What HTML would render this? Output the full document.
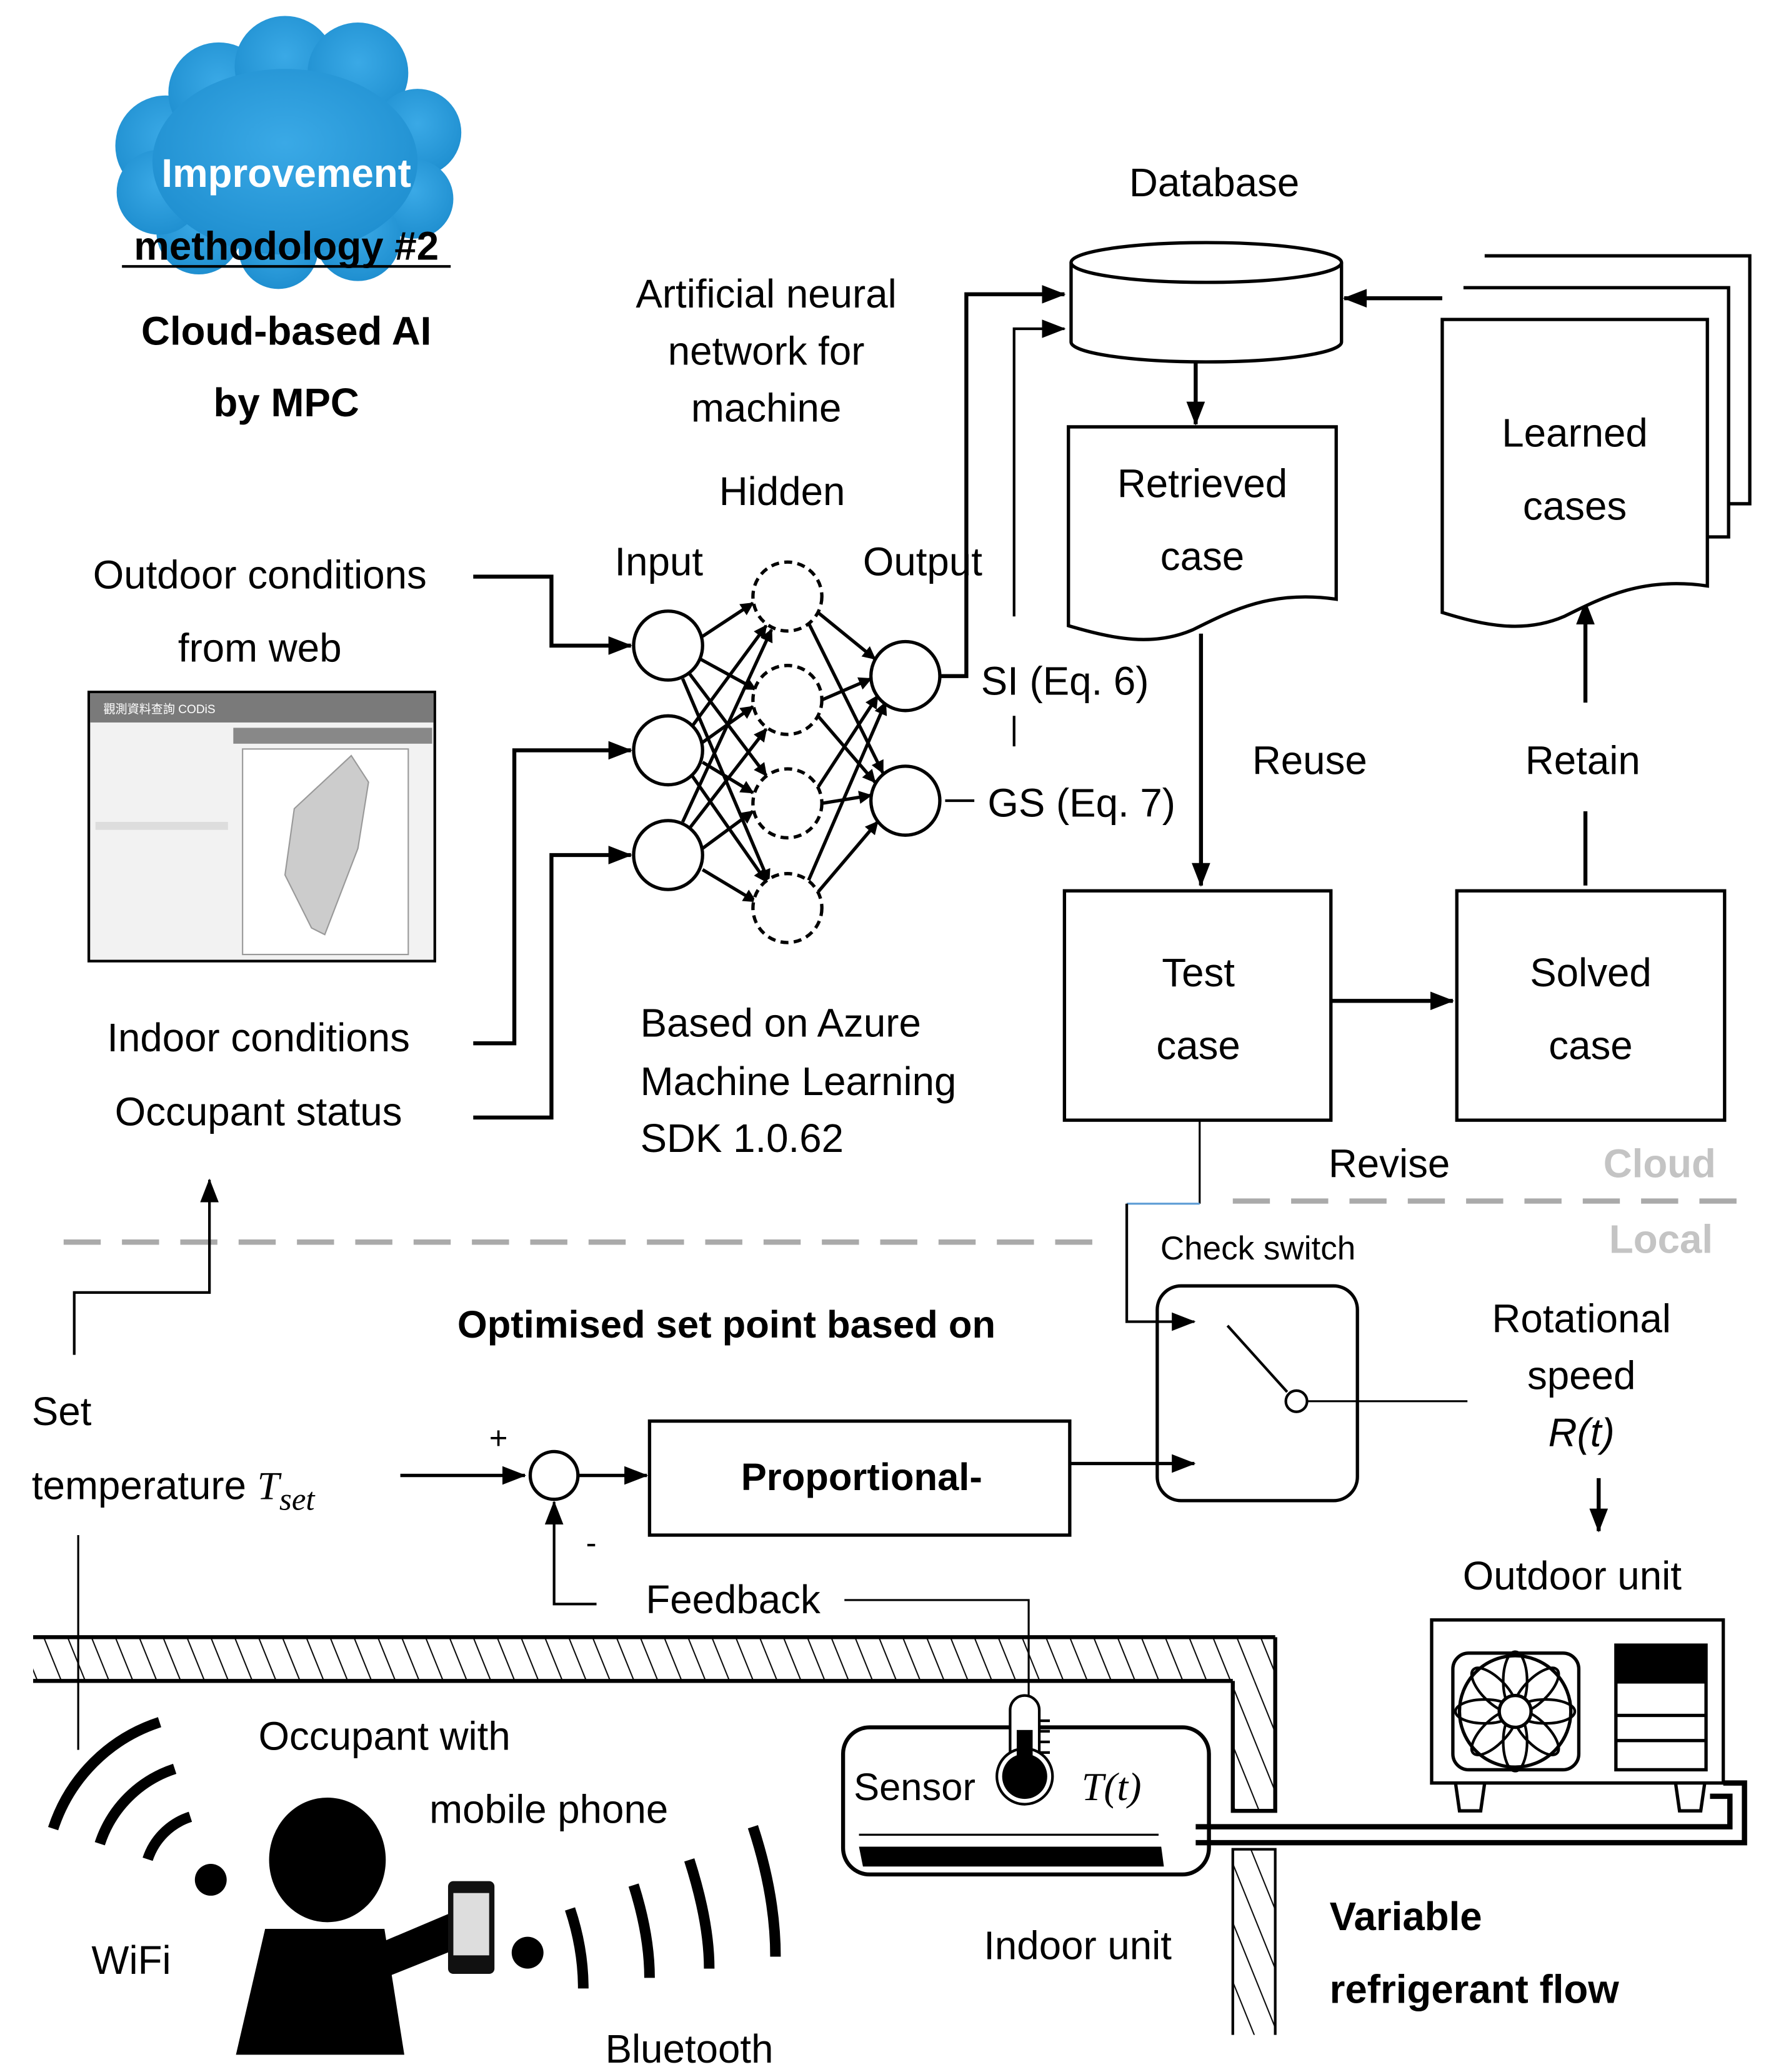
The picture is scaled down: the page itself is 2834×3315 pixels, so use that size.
<!DOCTYPE html>
<html><head><meta charset="utf-8"><style>html,body{margin:0;padding:0;background:#fff}svg{display:block}</style></head>
<body>
<svg width="2834" height="3315" viewBox="0 0 1336 1563" preserveAspectRatio="none" xmlns="http://www.w3.org/2000/svg" font-family="'Liberation Sans', sans-serif">
<defs>
<marker id="a" markerWidth="10" markerHeight="10" refX="9" refY="5" orient="auto" markerUnits="userSpaceOnUse"><path d="M0,0 L10,5 L0,10 z" fill="#000"/></marker>
<marker id="b" markerWidth="18" markerHeight="14" refX="17" refY="7" orient="auto" markerUnits="userSpaceOnUse"><path d="M0,0 L18,7 L0,14 z" fill="#000"/></marker>
<pattern id="h" width="18" height="40" patternUnits="userSpaceOnUse" patternTransform="skewX(22)"><line x1="2" y1="0" x2="2" y2="40" stroke="#000" stroke-width="1"/></pattern>
<radialGradient id="cg" cx="0.5" cy="0.4" r="0.6"><stop offset="0" stop-color="#3aa9e6"/><stop offset="1" stop-color="#1f8fd0"/></radialGradient>
</defs>

<!-- cloud -->
<g fill="url(#cg)">
<circle cx="125" cy="110" r="38"/><circle cx="165" cy="70" r="38"/><circle cx="215" cy="50" r="38"/><circle cx="270" cy="55" r="38"/><circle cx="315" cy="100" r="33"/><circle cx="312" cy="150" r="30"/><circle cx="270" cy="180" r="32"/><circle cx="210" cy="188" r="30"/><circle cx="150" cy="175" r="32"/><circle cx="120" cy="145" r="32"/><ellipse cx="215" cy="122" rx="100" ry="70"/>
</g>

<!-- screenshot -->
<rect x="67" y="522" width="261" height="203" fill="#f2f2f2" stroke="#000" stroke-width="2"/>
<rect x="68" y="523" width="259" height="22" fill="#7a7a7a"/>
<text x="78" y="538" font-size="9" fill="#fff" font-family="'Liberation Sans','Noto Sans CJK TC',sans-serif">觀測資料查詢  CODiS</text>
<rect x="176" y="549" width="150" height="12" fill="#888"/>
<rect x="183" y="565" width="125" height="155" fill="#fff" stroke="#999"/>
<path d="M265,570 L278,590 L270,640 L245,705 L235,700 L215,660 L222,610 Z" fill="#ccc" stroke="#999"/>
<rect x="72" y="620" width="100" height="6" fill="#ddd"/>

<g fill="none" stroke="#000" stroke-width="3">
<polyline points="357,435 416,435 416,487 476,487" marker-end="url(#b)"/>
<polyline points="357,787 388,787 388,566 476,566" marker-end="url(#b)"/>
<polyline points="357,843 416,843 416,645 476,645" marker-end="url(#b)"/>
<polyline points="709,510 729,510 729,222 803,222" marker-end="url(#b)"/>
<line x1="713" y1="604" x2="735" y2="604" stroke-width="2"/>
<polyline points="765,465 765,248 803,248" stroke-width="2" marker-end="url(#b)"/>
<line x1="765" y1="540" x2="765" y2="563" stroke-width="2"/>
<line x1="902" y1="272" x2="902" y2="320" marker-end="url(#b)"/>
<line x1="1088" y1="225" x2="1014" y2="225" marker-end="url(#b)"/>
<line x1="906" y1="478" x2="906" y2="668" marker-end="url(#b)"/>
<line x1="1196" y1="668" x2="1196" y2="612"/>
<line x1="1196" y1="530" x2="1196" y2="454" marker-end="url(#b)"/>
<line x1="1004" y1="755" x2="1096" y2="755" marker-end="url(#b)"/>
</g>

<!-- NN -->
<g stroke="#000" stroke-width="2.5" fill="none" marker-end="url(#a)">
<line x1="530" y1="480" x2="568" y2="455"/><line x1="528" y1="497" x2="570" y2="520"/><line x1="520" y1="508" x2="578" y2="585"/><line x1="515" y1="512" x2="580" y2="665"/>
<line x1="522" y1="548" x2="578" y2="472"/><line x1="530" y1="560" x2="568" y2="533"/><line x1="530" y1="575" x2="568" y2="598"/><line x1="522" y1="585" x2="578" y2="665"/>
<line x1="515" y1="620" x2="582" y2="475"/><line x1="520" y1="625" x2="578" y2="550"/><line x1="530" y1="640" x2="568" y2="612"/><line x1="530" y1="656" x2="570" y2="680"/>
<line x1="617" y1="462" x2="660" y2="497"/><line x1="610" y1="470" x2="666" y2="583"/>
<line x1="620" y1="528" x2="657" y2="512"/><line x1="617" y1="540" x2="660" y2="590"/>
<line x1="617" y1="594" x2="662" y2="525"/><line x1="620" y1="606" x2="657" y2="600"/>
<line x1="610" y1="664" x2="668" y2="530"/><line x1="617" y1="673" x2="662" y2="620"/>
</g>
<g stroke="#000" stroke-width="2.5" fill="#fff">
<circle cx="504" cy="487" r="26"/><circle cx="504" cy="566" r="26"/><circle cx="504" cy="645" r="26"/>
<circle cx="683" cy="510" r="26"/><circle cx="683" cy="604" r="26"/>
<g stroke-dasharray="6,4"><circle cx="594" cy="450" r="26"/><circle cx="594" cy="528" r="26"/><circle cx="594" cy="606" r="26"/><circle cx="594" cy="685" r="26"/></g>
</g>

<!-- database & docs -->
<g stroke="#000" stroke-width="2.5" fill="#fff">
<path d="M808,198 L808,258 A102,15 0 0 0 1012,258 L1012,198"/>
<ellipse cx="910" cy="198" rx="102" ry="15"/>
<path d="M806,322 H1008 V452 C960,445 930,460 900,475 C870,488 840,482 806,472 Z"/>
<path d="M1120,193 H1320 V380 H1304"/>
<path d="M1104,217 H1304 V405 H1288"/>
<path d="M1088,241 H1288 V442 C1240,435 1210,450 1180,465 C1150,478 1120,472 1088,462 Z"/>
<rect x="803" y="672" width="201" height="173"/>
<rect x="1099" y="672" width="202" height="173"/>
</g>

<g stroke="#aaa" stroke-width="4" stroke-dasharray="28,16">
<line x1="48" y1="937" x2="840" y2="937"/><line x1="930" y1="906" x2="1320" y2="906"/>
</g>

<g fill="none" stroke="#000">
<polyline points="905,845 905,908" stroke-width="1.5"/>
<polyline points="905,908 850,908" stroke="#5b9bd5" stroke-width="1.5"/>
<polyline points="850,908 850,997 901,997" stroke-width="2" marker-end="url(#b)"/>
<rect x="873" y="970" width="151" height="162" rx="18" stroke-width="2.5"/>
<line x1="926" y1="1000" x2="971" y2="1050" stroke-width="2"/>
<circle cx="978" cy="1057" r="8" stroke-width="2" fill="#fff"/>
<line x1="986" y1="1057" x2="1107" y2="1057" stroke-width="1.5"/>
<line x1="1206" y1="1115" x2="1206" y2="1155" stroke-width="3" marker-end="url(#b)"/>
<polyline points="56,1022 56,975 158,975 158,890" stroke-width="2" marker-end="url(#b)"/>
<line x1="302" y1="1113" x2="396" y2="1113" stroke-width="2.5" marker-end="url(#b)"/>
<circle cx="418" cy="1113" r="18" stroke-width="2.5" fill="#fff"/>
<line x1="436" y1="1113" x2="488" y2="1113" stroke-width="2.5" marker-end="url(#b)"/>
<rect x="490" y="1072" width="317" height="86" stroke-width="2.5"/>
<line x1="807" y1="1104" x2="901" y2="1104" stroke-width="2.5" marker-end="url(#b)"/>
<polyline points="450,1210 418,1210 418,1133" stroke-width="2" marker-end="url(#b)"/>
<polyline points="637,1207 776,1207 776,1280" stroke-width="1.5"/>
<line x1="59" y1="1158" x2="59" y2="1320" stroke-width="1.5"/>
</g>

<!-- building -->
<rect x="25" y="1235" width="937" height="33" fill="url(#h)"/>
<rect x="930" y="1268" width="32" height="98" fill="url(#h)"/>
<rect x="930" y="1395" width="32" height="140" fill="url(#h)"/>
<g stroke="#000" stroke-width="3" fill="none">
<line x1="25" y1="1235" x2="962" y2="1235"/>
<line x1="25" y1="1268" x2="930" y2="1268"/>
<polyline points="962,1235 962,1366 930,1366 930,1268"/>
<polyline points="930,1535 930,1395 962,1395 962,1535" stroke-width="2"/>
</g>

<!-- indoor unit -->
<rect x="636" y="1303" width="276" height="111" rx="20" fill="#fff" stroke="#000" stroke-width="3"/>
<line x1="648" y1="1384" x2="874" y2="1384" stroke="#000" stroke-width="1.5"/>
<path d="M648,1393 L876,1393 L878,1408 L651,1408 Z" fill="#000"/>
<path d="M762,1338 V1290 A11,11 0 0 1 784,1290 V1338 Z" fill="#fff" stroke="#000" stroke-width="2"/>
<circle cx="773" cy="1340" r="21" fill="#fff" stroke="#000" stroke-width="2"/>
<circle cx="773" cy="1340" r="17" fill="#000"/>
<rect x="767" y="1305" width="12" height="38" fill="#000"/>
<g stroke="#000" stroke-width="2"><line x1="784" y1="1298" x2="792" y2="1298"/><line x1="784" y1="1306" x2="792" y2="1306"/><line x1="784" y1="1314" x2="792" y2="1314"/><line x1="784" y1="1322" x2="792" y2="1322"/></g>

<g stroke="#000" stroke-width="4" fill="none">
<polyline points="902,1378 1305,1378 1305,1355 1290,1355"/>
<polyline points="902,1390 1316,1390 1316,1345 1300,1345"/>
</g>

<!-- outdoor unit -->
<g stroke="#000" stroke-width="2.5" fill="#fff">
<rect x="1080" y="1222" width="220" height="123"/>
<path d="M1098,1345 L1120,1345 L1117,1366 L1101,1366 Z"/>
<path d="M1264,1345 L1286,1345 L1283,1366 L1267,1366 Z"/>
<rect x="1096" y="1247" width="95" height="88" rx="12"/>
<circle cx="1143" cy="1291" r="42"/>
<g fill="none" stroke-width="2">
<ellipse cx="1143" cy="1268" rx="9" ry="22"/><ellipse cx="1143" cy="1314" rx="9" ry="22"/>
<ellipse cx="1120" cy="1291" rx="22" ry="9"/><ellipse cx="1166" cy="1291" rx="22" ry="9"/>
<ellipse cx="1127" cy="1275" rx="9" ry="22" transform="rotate(-45 1127 1275)"/><ellipse cx="1159" cy="1307" rx="9" ry="22" transform="rotate(-45 1159 1307)"/>
<ellipse cx="1159" cy="1275" rx="9" ry="22" transform="rotate(45 1159 1275)"/><ellipse cx="1127" cy="1307" rx="9" ry="22" transform="rotate(45 1127 1307)"/>
</g>
<circle cx="1143" cy="1291" r="12"/>
<rect x="1219" y="1241" width="68" height="94"/>
</g>
<rect x="1219" y="1241" width="68" height="29" fill="#000"/>
<g stroke="#000" stroke-width="2.5"><line x1="1219" y1="1294" x2="1287" y2="1294"/><line x1="1219" y1="1313" x2="1287" y2="1313"/></g>

<!-- occupant -->
<ellipse cx="247" cy="1403" rx="44" ry="47" fill="#000"/>
<path d="M200,1455 L290,1455 L305,1550 L178,1550 Z" fill="#000"/>
<path d="M288,1465 L340,1443 L345,1470 L295,1490 Z" fill="#000"/>
<rect x="338" y="1419" width="35" height="70" rx="4" fill="#111"/>
<rect x="342" y="1428" width="27" height="47" fill="#ddd"/>
<circle cx="159" cy="1418" r="12" fill="#000"/>
<circle cx="398" cy="1473" r="12" fill="#000"/>
<g fill="none" stroke="#000" stroke-width="8">
<path d="M111.4,1402.5 A50,50 0 0 1 143.6,1370.5"/>
<path d="M75.3,1390.8 A88,88 0 0 1 131.8,1334.3"/>
<path d="M40.1,1379.4 A125,125 0 0 1 120.4,1299.1"/>
<path d="M430,1440 Q440,1470 440,1500"/>
<path d="M478,1422 Q490,1460 490,1492"/>
<path d="M520,1403 Q535,1450 535,1485"/>
<path d="M568,1378 Q585,1430 585,1476"/>
</g>

<!-- texts -->
<text x="216" y="141" font-size="30" font-weight="bold" fill="#fff" text-anchor="middle">Improvement</text>
<text x="216" y="196" font-size="30" font-weight="bold" fill="#000" text-anchor="middle">methodology #2</text>
<line x1="92" y1="201" x2="340" y2="201" stroke="#000" stroke-width="2"/>
<text x="216" y="260" font-size="30" font-weight="bold" text-anchor="middle">Cloud-based AI</text>
<text x="216" y="314" font-size="30" font-weight="bold" text-anchor="middle">by MPC</text>
<g font-size="30" text-anchor="middle">
<text x="578" y="232">Artificial neural</text>
<text x="578" y="275">network for</text>
<text x="578" y="318">machine</text>
<text x="590" y="381">Hidden</text>
<text x="497" y="434">Input</text>
<text x="696" y="434">Output</text>
<text x="916" y="148">Database</text>
<text x="196" y="444">Outdoor conditions</text>
<text x="196" y="499">from web</text>
<text x="195" y="793">Indoor conditions</text>
<text x="195" y="849">Occupant status</text>
<text x="907" y="375">Retrieved</text>
<text x="907" y="430">case</text>
<text x="1188" y="337">Learned</text>
<text x="1188" y="392">cases</text>
<text x="988" y="584">Reuse</text>
<text x="1194" y="584">Retain</text>
<text x="904" y="744">Test</text>
<text x="904" y="799">case</text>
<text x="1200" y="744">Solved</text>
<text x="1200" y="799">case</text>
<text x="1048" y="888">Revise</text>
<text x="1193" y="1005">Rotational</text>
<text x="1193" y="1048">speed</text>
<text x="1193" y="1091" font-style="italic">R(t)</text>
<text x="1186" y="1199">Outdoor unit</text>
<text x="290" y="1320">Occupant with</text>
<text x="414" y="1375">mobile phone</text>
<text x="99" y="1489">WiFi</text>
<text x="520" y="1556">Bluetooth</text>
<text x="813" y="1478">Indoor unit</text>
<text x="553" y="1217">Feedback</text>
</g>
<g font-size="30">
<text x="740" y="524">SI (Eq. 6)</text>
<text x="745" y="616">GS (Eq. 7)</text>
<text x="483" y="782">Based on Azure</text>
<text x="483" y="826">Machine Learning</text>
<text x="483" y="869">SDK 1.0.62</text>
<text x="24" y="1075">Set</text>
<text x="24" y="1131">temperature <tspan font-family="'Liberation Serif',serif" font-style="italic">T</tspan><tspan font-family="'Liberation Serif',serif" font-style="italic" font-size="24" dy="8">set</tspan></text>
<text x="644" y="1358" font-size="29">Sensor</text>
<text x="816" y="1358" font-family="'Liberation Serif',serif" font-style="italic">T(t)</text>
<text x="1003" y="1456" font-weight="bold">Variable</text>
<text x="1003" y="1511" font-weight="bold">refrigerant flow</text>
</g>
<text x="548" y="1009" font-size="29" font-weight="bold" text-anchor="middle">Optimised set point based on</text>
<text x="650" y="1124" font-size="29" font-weight="bold" text-anchor="middle">Proportional-</text>
<text x="949" y="950" font-size="25" text-anchor="middle">Check switch</text>
<text x="1252" y="888" font-size="30" font-weight="bold" fill="#c4c4c4" text-anchor="middle">Cloud</text>
<text x="1253" y="945" font-size="30" font-weight="bold" fill="#c4c4c4" text-anchor="middle">Local</text>
<text x="376" y="1093" font-size="24" text-anchor="middle">+</text>
<text x="446" y="1172" font-size="24" text-anchor="middle">-</text>
</svg>
</body></html>
